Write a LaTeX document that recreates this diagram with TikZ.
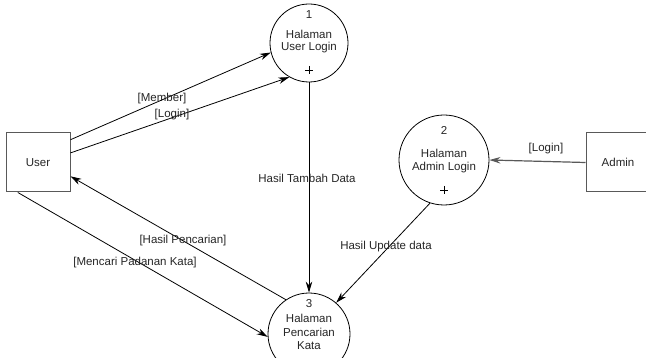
\documentclass[tikz,border=0pt]{standalone}
\usepackage{fontspec}
\setmainfont{Liberation Sans}
\usetikzlibrary{arrows.meta,calc}
\begin{document}
\begin{tikzpicture}[x=1pt,y=-1pt,
  txt/.style={font=\fontsize{11.5}{13}\selectfont, text=black!85, inner sep=0pt},
  proc/.style={circle, draw=black, line width=0.8pt, inner sep=0pt},
  ent/.style={rectangle, draw=black!65, line width=1pt, minimum width=64pt, minimum height=59pt, inner sep=0pt},
  flow/.style={draw=black, line width=0.8pt, -{Stealth[length=11pt,width=6.5pt]}},
  flowg/.style={draw=black!65, line width=1.2pt, -{Stealth[length=11pt,width=6.5pt]}}]
\clip (0,0) rectangle (646,358);
\fill[white] (0,0) rectangle (646,358);
% processes
\node[proc, minimum size=78pt] (p1) at (309,43) {};
\node[proc, minimum size=90pt] (p2) at (444,160) {};
\node[proc, minimum size=82pt] (p3) at (309,334) {};
% entities
\node[ent] (user) at (38,162.5) {};
\node[ent] (admin) at (618,162.5) {};
\node[txt] at (user.center) {User};
\node[txt] at (admin.center) {Admin};
% process texts
\node[txt] at (309,15) {1};
\node[txt] at (309,34) {Halaman};
\node[txt] at (309,48) {User Login};
\node[txt] at (444,130) {2};
\node[txt] at (444,153) {Halaman};
\node[txt] at (444,168) {Admin Login};
\node[txt] at (309,304) {3};
\node[txt] at (309,318) {Halaman};
\node[txt] at (309,332) {Pencarian};
\node[txt] at (309,346) {Kata};
% plus marks
\draw[line width=0.7pt] (305,70) -- (313,70) (309,66) -- (309,74);
\draw[line width=0.7pt] (440,190) -- (448,190) (444,186) -- (444,194);
% flows
\draw[flow] ($(user.north east)!0.12!(user.south east)$) -- (p1.194);
\draw[flow] ($(user.north east)!0.34!(user.south east)$) -- (p1.240);
\draw[flow] (p1.270) -- (p3.90);
\draw[flowg] (admin.west) -- (p2.0);
\draw[flow] (p2.252) -- (p3.49);
\draw[flow] (p3.124) -- ($(user.north east)!0.73!(user.south east)$);
\draw[flow] ($(user.south west)!0.19!(user.south east)$) -- (p3.184);
% labels
\node[txt] at (162,99) {[Member]};
\node[txt] at (172,115) {[Login]};
\node[txt] at (307,178) {Hasil Tambah Data};
\node[txt] at (546,149) {[Login]};
\node[txt] at (386,247) {Hasil Update data};
\node[txt] at (183,241) {[Hasil Pencarian]};
\node[txt] at (135,263) {[Mencari Padanan Kata]};
\end{tikzpicture}
\end{document}
